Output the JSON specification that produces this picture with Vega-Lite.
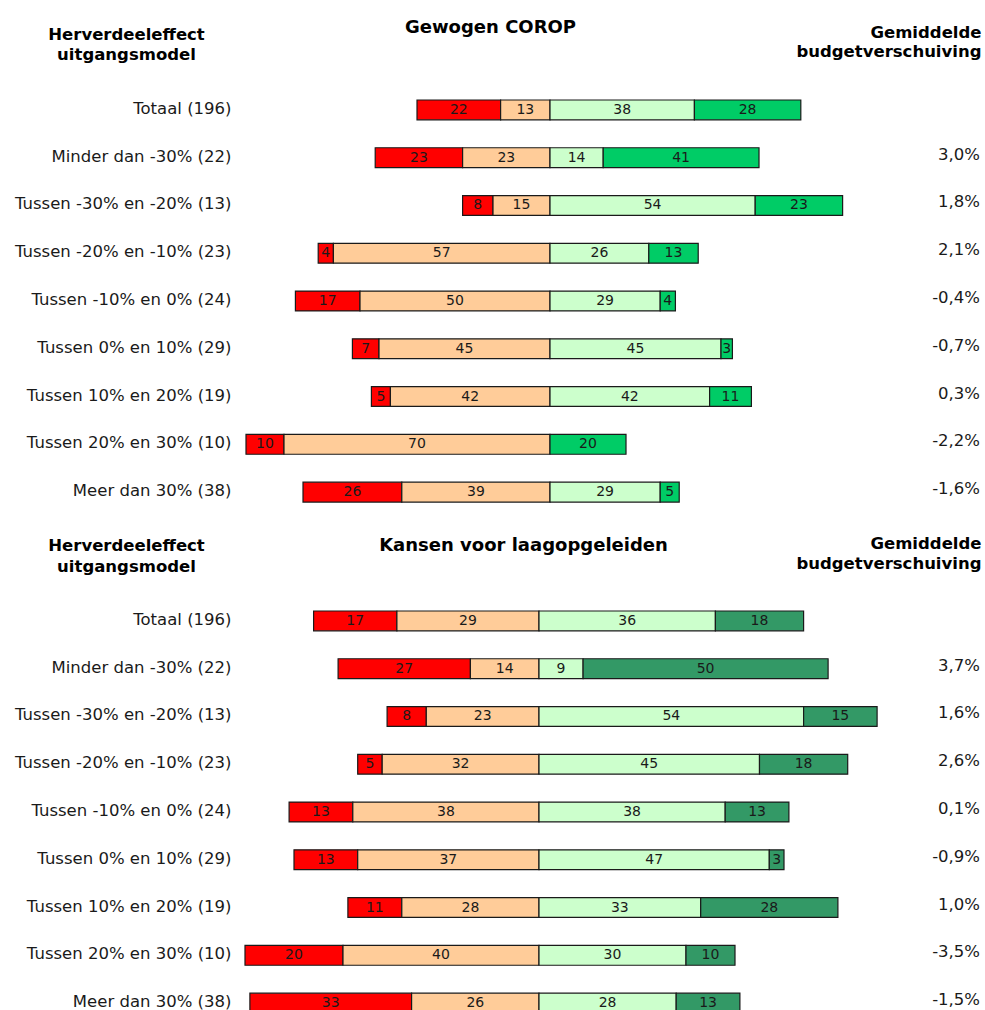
{
  "$schema": "https://vega.github.io/schema/vega-lite/v6.json",
  "padding": {"left": 14, "top": 18, "right": 0, "bottom": 0},
  "autosize": {"type": "pad"},
  "background": "white",
  "bounds": "flush",
  "spacing": 81,
  "datasets": {
    "segs": [
      {"panel": "Gewogen COROP", "groep": "Totaal (196)", "klasse": "sterk negatief", "waarde": -22},
      {"panel": "Gewogen COROP", "groep": "Totaal (196)", "klasse": "negatief", "waarde": -13},
      {"panel": "Gewogen COROP", "groep": "Totaal (196)", "klasse": "positief", "waarde": 38},
      {"panel": "Gewogen COROP", "groep": "Totaal (196)", "klasse": "sterk positief", "waarde": 28},
      {"panel": "Gewogen COROP", "groep": "Minder dan -30% (22)", "klasse": "sterk negatief", "waarde": -23},
      {"panel": "Gewogen COROP", "groep": "Minder dan -30% (22)", "klasse": "negatief", "waarde": -23},
      {"panel": "Gewogen COROP", "groep": "Minder dan -30% (22)", "klasse": "positief", "waarde": 14},
      {"panel": "Gewogen COROP", "groep": "Minder dan -30% (22)", "klasse": "sterk positief", "waarde": 41},
      {"panel": "Gewogen COROP", "groep": "Tussen -30% en -20% (13)", "klasse": "sterk negatief", "waarde": -8},
      {"panel": "Gewogen COROP", "groep": "Tussen -30% en -20% (13)", "klasse": "negatief", "waarde": -15},
      {"panel": "Gewogen COROP", "groep": "Tussen -30% en -20% (13)", "klasse": "positief", "waarde": 54},
      {"panel": "Gewogen COROP", "groep": "Tussen -30% en -20% (13)", "klasse": "sterk positief", "waarde": 23},
      {"panel": "Gewogen COROP", "groep": "Tussen -20% en -10% (23)", "klasse": "sterk negatief", "waarde": -4},
      {"panel": "Gewogen COROP", "groep": "Tussen -20% en -10% (23)", "klasse": "negatief", "waarde": -57},
      {"panel": "Gewogen COROP", "groep": "Tussen -20% en -10% (23)", "klasse": "positief", "waarde": 26},
      {"panel": "Gewogen COROP", "groep": "Tussen -20% en -10% (23)", "klasse": "sterk positief", "waarde": 13},
      {"panel": "Gewogen COROP", "groep": "Tussen -10% en 0% (24)", "klasse": "sterk negatief", "waarde": -17},
      {"panel": "Gewogen COROP", "groep": "Tussen -10% en 0% (24)", "klasse": "negatief", "waarde": -50},
      {"panel": "Gewogen COROP", "groep": "Tussen -10% en 0% (24)", "klasse": "positief", "waarde": 29},
      {"panel": "Gewogen COROP", "groep": "Tussen -10% en 0% (24)", "klasse": "sterk positief", "waarde": 4},
      {"panel": "Gewogen COROP", "groep": "Tussen 0% en 10% (29)", "klasse": "sterk negatief", "waarde": -7},
      {"panel": "Gewogen COROP", "groep": "Tussen 0% en 10% (29)", "klasse": "negatief", "waarde": -45},
      {"panel": "Gewogen COROP", "groep": "Tussen 0% en 10% (29)", "klasse": "positief", "waarde": 45},
      {"panel": "Gewogen COROP", "groep": "Tussen 0% en 10% (29)", "klasse": "sterk positief", "waarde": 3},
      {"panel": "Gewogen COROP", "groep": "Tussen 10% en 20% (19)", "klasse": "sterk negatief", "waarde": -5},
      {"panel": "Gewogen COROP", "groep": "Tussen 10% en 20% (19)", "klasse": "negatief", "waarde": -42},
      {"panel": "Gewogen COROP", "groep": "Tussen 10% en 20% (19)", "klasse": "positief", "waarde": 42},
      {"panel": "Gewogen COROP", "groep": "Tussen 10% en 20% (19)", "klasse": "sterk positief", "waarde": 11},
      {"panel": "Gewogen COROP", "groep": "Tussen 20% en 30% (10)", "klasse": "sterk negatief", "waarde": -10},
      {"panel": "Gewogen COROP", "groep": "Tussen 20% en 30% (10)", "klasse": "negatief", "waarde": -70},
      {"panel": "Gewogen COROP", "groep": "Tussen 20% en 30% (10)", "klasse": "sterk positief", "waarde": 20},
      {"panel": "Gewogen COROP", "groep": "Meer dan 30% (38)", "klasse": "sterk negatief", "waarde": -26},
      {"panel": "Gewogen COROP", "groep": "Meer dan 30% (38)", "klasse": "negatief", "waarde": -39},
      {"panel": "Gewogen COROP", "groep": "Meer dan 30% (38)", "klasse": "positief", "waarde": 29},
      {"panel": "Gewogen COROP", "groep": "Meer dan 30% (38)", "klasse": "sterk positief", "waarde": 5},
      {"panel": "Kansen voor laagopgeleiden", "groep": "Totaal (196)", "klasse": "sterk negatief", "waarde": -17},
      {"panel": "Kansen voor laagopgeleiden", "groep": "Totaal (196)", "klasse": "negatief", "waarde": -29},
      {"panel": "Kansen voor laagopgeleiden", "groep": "Totaal (196)", "klasse": "positief", "waarde": 36},
      {"panel": "Kansen voor laagopgeleiden", "groep": "Totaal (196)", "klasse": "sterk positief", "waarde": 18},
      {"panel": "Kansen voor laagopgeleiden", "groep": "Minder dan -30% (22)", "klasse": "sterk negatief", "waarde": -27},
      {"panel": "Kansen voor laagopgeleiden", "groep": "Minder dan -30% (22)", "klasse": "negatief", "waarde": -14},
      {"panel": "Kansen voor laagopgeleiden", "groep": "Minder dan -30% (22)", "klasse": "positief", "waarde": 9},
      {"panel": "Kansen voor laagopgeleiden", "groep": "Minder dan -30% (22)", "klasse": "sterk positief", "waarde": 50},
      {"panel": "Kansen voor laagopgeleiden", "groep": "Tussen -30% en -20% (13)", "klasse": "sterk negatief", "waarde": -8},
      {"panel": "Kansen voor laagopgeleiden", "groep": "Tussen -30% en -20% (13)", "klasse": "negatief", "waarde": -23},
      {"panel": "Kansen voor laagopgeleiden", "groep": "Tussen -30% en -20% (13)", "klasse": "positief", "waarde": 54},
      {"panel": "Kansen voor laagopgeleiden", "groep": "Tussen -30% en -20% (13)", "klasse": "sterk positief", "waarde": 15},
      {"panel": "Kansen voor laagopgeleiden", "groep": "Tussen -20% en -10% (23)", "klasse": "sterk negatief", "waarde": -5},
      {"panel": "Kansen voor laagopgeleiden", "groep": "Tussen -20% en -10% (23)", "klasse": "negatief", "waarde": -32},
      {"panel": "Kansen voor laagopgeleiden", "groep": "Tussen -20% en -10% (23)", "klasse": "positief", "waarde": 45},
      {"panel": "Kansen voor laagopgeleiden", "groep": "Tussen -20% en -10% (23)", "klasse": "sterk positief", "waarde": 18},
      {"panel": "Kansen voor laagopgeleiden", "groep": "Tussen -10% en 0% (24)", "klasse": "sterk negatief", "waarde": -13},
      {"panel": "Kansen voor laagopgeleiden", "groep": "Tussen -10% en 0% (24)", "klasse": "negatief", "waarde": -38},
      {"panel": "Kansen voor laagopgeleiden", "groep": "Tussen -10% en 0% (24)", "klasse": "positief", "waarde": 38},
      {"panel": "Kansen voor laagopgeleiden", "groep": "Tussen -10% en 0% (24)", "klasse": "sterk positief", "waarde": 13},
      {"panel": "Kansen voor laagopgeleiden", "groep": "Tussen 0% en 10% (29)", "klasse": "sterk negatief", "waarde": -13},
      {"panel": "Kansen voor laagopgeleiden", "groep": "Tussen 0% en 10% (29)", "klasse": "negatief", "waarde": -37},
      {"panel": "Kansen voor laagopgeleiden", "groep": "Tussen 0% en 10% (29)", "klasse": "positief", "waarde": 47},
      {"panel": "Kansen voor laagopgeleiden", "groep": "Tussen 0% en 10% (29)", "klasse": "sterk positief", "waarde": 3},
      {"panel": "Kansen voor laagopgeleiden", "groep": "Tussen 10% en 20% (19)", "klasse": "sterk negatief", "waarde": -11},
      {"panel": "Kansen voor laagopgeleiden", "groep": "Tussen 10% en 20% (19)", "klasse": "negatief", "waarde": -28},
      {"panel": "Kansen voor laagopgeleiden", "groep": "Tussen 10% en 20% (19)", "klasse": "positief", "waarde": 33},
      {"panel": "Kansen voor laagopgeleiden", "groep": "Tussen 10% en 20% (19)", "klasse": "sterk positief", "waarde": 28},
      {"panel": "Kansen voor laagopgeleiden", "groep": "Tussen 20% en 30% (10)", "klasse": "sterk negatief", "waarde": -20},
      {"panel": "Kansen voor laagopgeleiden", "groep": "Tussen 20% en 30% (10)", "klasse": "negatief", "waarde": -40},
      {"panel": "Kansen voor laagopgeleiden", "groep": "Tussen 20% en 30% (10)", "klasse": "positief", "waarde": 30},
      {"panel": "Kansen voor laagopgeleiden", "groep": "Tussen 20% en 30% (10)", "klasse": "sterk positief", "waarde": 10},
      {"panel": "Kansen voor laagopgeleiden", "groep": "Meer dan 30% (38)", "klasse": "sterk negatief", "waarde": -33},
      {"panel": "Kansen voor laagopgeleiden", "groep": "Meer dan 30% (38)", "klasse": "negatief", "waarde": -26},
      {"panel": "Kansen voor laagopgeleiden", "groep": "Meer dan 30% (38)", "klasse": "positief", "waarde": 28},
      {"panel": "Kansen voor laagopgeleiden", "groep": "Meer dan 30% (38)", "klasse": "sterk positief", "waarde": 13}
    ],
    "rows": [
      {"panel": "Gewogen COROP", "groep": "Minder dan -30% (22)", "budget": 0.030},
      {"panel": "Gewogen COROP", "groep": "Tussen -30% en -20% (13)", "budget": 0.018},
      {"panel": "Gewogen COROP", "groep": "Tussen -20% en -10% (23)", "budget": 0.021},
      {"panel": "Gewogen COROP", "groep": "Tussen -10% en 0% (24)", "budget": -0.004},
      {"panel": "Gewogen COROP", "groep": "Tussen 0% en 10% (29)", "budget": -0.007},
      {"panel": "Gewogen COROP", "groep": "Tussen 10% en 20% (19)", "budget": 0.003},
      {"panel": "Gewogen COROP", "groep": "Tussen 20% en 30% (10)", "budget": -0.022},
      {"panel": "Gewogen COROP", "groep": "Meer dan 30% (38)", "budget": -0.016},
      {"panel": "Kansen voor laagopgeleiden", "groep": "Minder dan -30% (22)", "budget": 0.037},
      {"panel": "Kansen voor laagopgeleiden", "groep": "Tussen -30% en -20% (13)", "budget": 0.016},
      {"panel": "Kansen voor laagopgeleiden", "groep": "Tussen -20% en -10% (23)", "budget": 0.026},
      {"panel": "Kansen voor laagopgeleiden", "groep": "Tussen -10% en 0% (24)", "budget": 0.001},
      {"panel": "Kansen voor laagopgeleiden", "groep": "Tussen 0% en 10% (29)", "budget": -0.009},
      {"panel": "Kansen voor laagopgeleiden", "groep": "Tussen 10% en 20% (19)", "budget": 0.010},
      {"panel": "Kansen voor laagopgeleiden", "groep": "Tussen 20% en 30% (10)", "budget": -0.035},
      {"panel": "Kansen voor laagopgeleiden", "groep": "Meer dan 30% (38)", "budget": -0.015}
    ]
  },
  "vconcat": [
    {
      "width": 745,
      "height": 430,
      "layer": [
        {
          "data": {"name": "segs"},
          "transform": [{"filter": {"field": "panel", "equal": "Gewogen COROP"}}],
          "mark": {"type": "bar", "stroke": "#1a1a1a", "strokeWidth": 1.2},
          "encoding": {
            "y": {"field": "groep", "type": "nominal",
              "scale": {"domain": ["Totaal (196)", "Minder dan -30% (22)", "Tussen -30% en -20% (13)", "Tussen -20% en -10% (23)", "Tussen -10% en 0% (24)", "Tussen 0% en 10% (29)", "Tussen 10% en 20% (19)", "Tussen 20% en 30% (10)", "Meer dan 30% (38)"], "paddingInner": 0.585, "paddingOuter": 0.2925},
              "axis": {"orient": "left", "ticks": false, "domain": false, "grid": false, "labelFont": "DejaVu Sans", "labelFontSize": 16.5, "labelColor": "#1a1a1a", "labelPadding": 9, "labelLimit": 400, "labelOffset": -1,
                "title": ["Herverdeeleffect", "uitgangsmodel"], "titleFont": "DejaVu Sans", "titleFontSize": 16.5, "titleFontWeight": "bold", "titleColor": "#000000", "titleAngle": 0, "titleAlign": "center", "titleBaseline": "alphabetic", "titleX": -114, "titleY": -46.8, "titleLineHeight": 20.5}},
            "x": {"field": "waarde", "type": "quantitative", "stack": "zero",
              "scale": {"domain": [-81.58, 114.47], "nice": false, "zero": false},
              "axis": {"orient": "top", "labels": false, "ticks": false, "domain": false, "grid": false, "title": "Gewogen COROP", "titleFont": "DejaVu Sans", "titleFontSize": 18, "titleFontWeight": "bold", "titleColor": "#000000", "titleAngle": 0, "titleAlign": "center", "titleBaseline": "alphabetic", "titleX": 250, "titleY": -54}},
            "color": {"field": "klasse", "type": "nominal",
              "scale": {"domain": ["sterk negatief", "negatief", "positief", "sterk positief"], "range": ["#FF0000", "#FFCC99", "#CCFFCC", "#00CC66"]}, "legend": null},
            "order": {"field": "klasse", "type": "nominal"}
          }
        },
        {
          "data": {"name": "segs"},
          "transform": [{"filter": {"field": "panel", "equal": "Gewogen COROP"}}],
          "mark": {"type": "text", "font": "DejaVu Sans", "fontSize": 14, "color": "#1a1a1a", "baseline": "middle", "text": {"expr": "abs(datum.waarde)"}},
          "encoding": {
            "y": {"field": "groep", "type": "nominal", "axis": null},
            "x": {"field": "waarde", "type": "quantitative", "stack": "zero", "bandPosition": 0.5,
              "axis": {"orient": "top", "labels": false, "ticks": false, "domain": false, "grid": false, "title": "Gewogen COROP", "titleFont": "DejaVu Sans", "titleFontSize": 18, "titleFontWeight": "bold", "titleColor": "#000000", "titleAngle": 0, "titleAlign": "center", "titleBaseline": "alphabetic", "titleX": 250, "titleY": -54}},
            "detail": {"field": "klasse", "type": "nominal"},
            "order": {"field": "klasse", "type": "nominal"}
          }
        },
        {
          "data": {"name": "rows"},
          "transform": [{"filter": {"field": "panel", "equal": "Gewogen COROP"}}],
          "mark": {"type": "text", "font": "DejaVu Sans", "fontSize": 16.5, "color": "#1a1a1a", "align": "right", "baseline": "middle", "dx": -5, "dy": -3},
          "encoding": {
            "y": {"field": "groep", "type": "nominal",
              "axis": {"orient": "right", "labels": false, "ticks": false, "domain": false, "grid": false,
                "title": ["Gemiddelde", "budgetverschuiving"], "titleFont": "DejaVu Sans", "titleFontSize": 16.5, "titleFontWeight": "bold", "titleColor": "#000000", "titleAngle": 0, "titleAlign": "right", "titleBaseline": "alphabetic", "titleX": -4, "titleY": -48.4, "titleLineHeight": 18.5}},
            "x": {"datum": 114.47, "type": "quantitative",
              "axis": {"orient": "top", "labels": false, "ticks": false, "domain": false, "grid": false, "title": "Gewogen COROP", "titleFont": "DejaVu Sans", "titleFontSize": 18, "titleFontWeight": "bold", "titleColor": "#000000", "titleAngle": 0, "titleAlign": "center", "titleBaseline": "alphabetic", "titleX": 250, "titleY": -54}},
            "text": {"field": "budget", "type": "quantitative", "format": ".1%"}
          }
        }
      ],
      "resolve": {"axis": {"y": "independent"}}
    },
    {
      "width": 745,
      "height": 430,
      "layer": [
        {
          "data": {"name": "segs"},
          "transform": [{"filter": {"field": "panel", "equal": "Kansen voor laagopgeleiden"}}],
          "mark": {"type": "bar", "stroke": "#1a1a1a", "strokeWidth": 1.2},
          "encoding": {
            "y": {"field": "groep", "type": "nominal",
              "scale": {"domain": ["Totaal (196)", "Minder dan -30% (22)", "Tussen -30% en -20% (13)", "Tussen -20% en -10% (23)", "Tussen -10% en 0% (24)", "Tussen 0% en 10% (29)", "Tussen 10% en 20% (19)", "Tussen 20% en 30% (10)", "Meer dan 30% (38)"], "paddingInner": 0.585, "paddingOuter": 0.2925},
              "axis": {"orient": "left", "ticks": false, "domain": false, "grid": false, "labelFont": "DejaVu Sans", "labelFontSize": 16.5, "labelColor": "#1a1a1a", "labelPadding": 9, "labelLimit": 400, "labelOffset": -1,
                "title": ["Herverdeeleffect", "uitgangsmodel"], "titleFont": "DejaVu Sans", "titleFontSize": 16.5, "titleFontWeight": "bold", "titleColor": "#000000", "titleAngle": 0, "titleAlign": "center", "titleBaseline": "alphabetic", "titleX": -114, "titleY": -46.1, "titleLineHeight": 20.5}},
            "x": {"field": "waarde", "type": "quantitative", "stack": "zero",
              "scale": {"domain": [-61.02, 91.02], "nice": false, "zero": false},
              "axis": {"orient": "top", "labels": false, "ticks": false, "domain": false, "grid": false, "title": "Kansen voor laagopgeleiden", "titleFont": "DejaVu Sans", "titleFontSize": 18, "titleFontWeight": "bold", "titleColor": "#000000", "titleAngle": 0, "titleAlign": "center", "titleBaseline": "alphabetic", "titleX": 283, "titleY": -46.1}},
            "color": {"field": "klasse", "type": "nominal",
              "scale": {"domain": ["sterk negatief", "negatief", "positief", "sterk positief"], "range": ["#FF0000", "#FFCC99", "#CCFFCC", "#339966"]}, "legend": null},
            "order": {"field": "klasse", "type": "nominal"}
          }
        },
        {
          "data": {"name": "segs"},
          "transform": [{"filter": {"field": "panel", "equal": "Kansen voor laagopgeleiden"}}],
          "mark": {"type": "text", "font": "DejaVu Sans", "fontSize": 14, "color": "#1a1a1a", "baseline": "middle", "text": {"expr": "abs(datum.waarde)"}},
          "encoding": {
            "y": {"field": "groep", "type": "nominal", "axis": null},
            "x": {"field": "waarde", "type": "quantitative", "stack": "zero", "bandPosition": 0.5,
              "axis": {"orient": "top", "labels": false, "ticks": false, "domain": false, "grid": false, "title": "Kansen voor laagopgeleiden", "titleFont": "DejaVu Sans", "titleFontSize": 18, "titleFontWeight": "bold", "titleColor": "#000000", "titleAngle": 0, "titleAlign": "center", "titleBaseline": "alphabetic", "titleX": 283, "titleY": -46.1}},
            "detail": {"field": "klasse", "type": "nominal"},
            "order": {"field": "klasse", "type": "nominal"}
          }
        },
        {
          "data": {"name": "rows"},
          "transform": [{"filter": {"field": "panel", "equal": "Kansen voor laagopgeleiden"}}],
          "mark": {"type": "text", "font": "DejaVu Sans", "fontSize": 16.5, "color": "#1a1a1a", "align": "right", "baseline": "middle", "dx": -5, "dy": -3},
          "encoding": {
            "y": {"field": "groep", "type": "nominal",
              "axis": {"orient": "right", "labels": false, "ticks": false, "domain": false, "grid": false,
                "title": ["Gemiddelde", "budgetverschuiving"], "titleFont": "DejaVu Sans", "titleFontSize": 16.5, "titleFontWeight": "bold", "titleColor": "#000000", "titleAngle": 0, "titleAlign": "right", "titleBaseline": "alphabetic", "titleX": -4, "titleY": -48.8, "titleLineHeight": 20}},
            "x": {"datum": 91.02, "type": "quantitative",
              "axis": {"orient": "top", "labels": false, "ticks": false, "domain": false, "grid": false, "title": "Kansen voor laagopgeleiden", "titleFont": "DejaVu Sans", "titleFontSize": 18, "titleFontWeight": "bold", "titleColor": "#000000", "titleAngle": 0, "titleAlign": "center", "titleBaseline": "alphabetic", "titleX": 283, "titleY": -46.1}},
            "text": {"field": "budget", "type": "quantitative", "format": ".1%"}
          }
        }
      ],
      "resolve": {"axis": {"y": "independent"}}
    }
  ],
  "resolve": {"scale": {"x": "independent", "y": "independent", "color": "independent"}},
  "config": {
    "view": {"stroke": null},
    "locale": {"number": {"decimal": ",", "thousands": ".", "grouping": [3], "currency": ["€ ", ""], "minus": "-"}}
  }
}
